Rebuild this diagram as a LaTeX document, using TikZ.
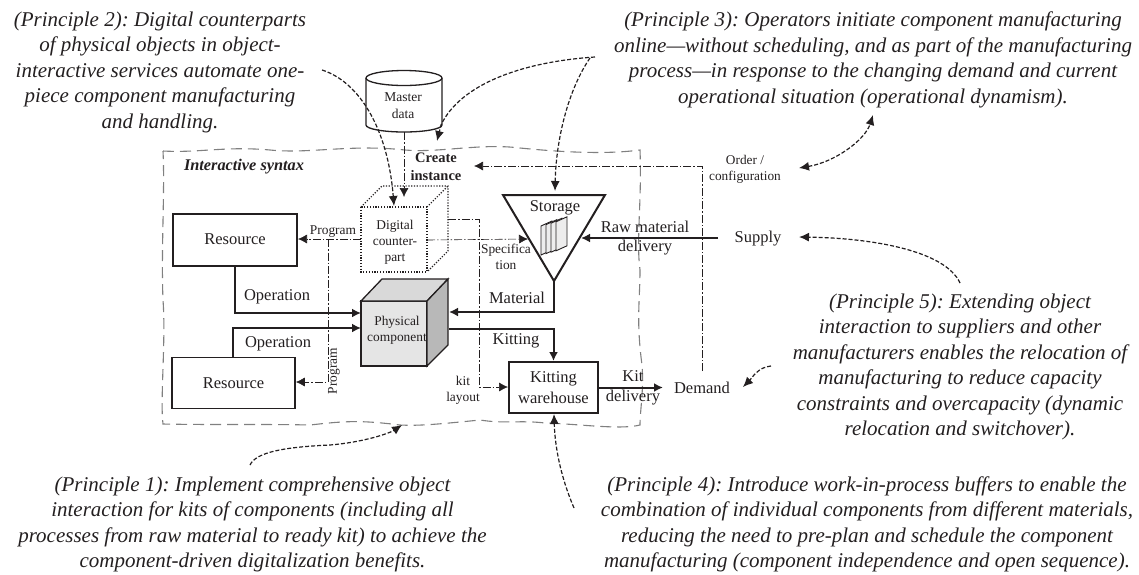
\documentclass[tikz,border=0pt]{standalone}
\usepackage{fontspec}
\setmainfont{Liberation Serif}
\usetikzlibrary{arrows.meta,decorations.pathmorphing}
\definecolor{ink}{HTML}{231F20}
\tikzset{
 plainbox/.style={draw=ink,line width=2pt,fill=white,inner sep=0pt,minimum width=0pt},
 tx/.style={text=ink,inner sep=0pt,align=center,font=\fontsize{#1}{1.2\dimexpr #1pt\relax}\selectfont},
 tx/.default=16.5,
 ptext/.style={text=ink,inner sep=0pt,align=center,font=\fontsize{#1}{25.5}\selectfont\itshape\frenchspacing},
 ptext/.default=21,
 flow/.style={draw=ink,line width=2pt,-{Latex[length=9pt,width=9pt]}},
 info/.style={draw=ink,line width=.6pt,dash pattern=on 8pt off 2pt on 1.5pt off 2pt,-{Latex[length=9pt,width=9pt]}},
 note/.style={draw=ink,line width=1.2pt,dash pattern=on 4pt off 2pt,-{Latex[length=10pt,width=9pt]}},
 boundary/.style={draw=black!50,line width=1.1pt,dash pattern=on 11pt off 6pt},
 dotted box/.style={draw=ink,line width=1.1pt,dash pattern=on 1.2pt off 1.6pt},
}
\begin{document}
\begin{tikzpicture}[x=1pt,y=-1pt]
\useasboundingbox (0,0) rectangle (1139,574);
% boundary
\draw[boundary] (163,151) .. controls (200,153) and (225,146) .. (270,150) .. controls (310,154) and (350,144) .. (405,150) .. controls (440,153) and (480,143) .. (520,148) .. controls (570,153) and (610,154) .. (640,150)
 .. controls (642,200) and (636,240) .. (640,270) .. controls (640,300) and (636,320) .. (642,365) .. controls (644,390) and (640,410) .. (640,425)
 .. controls (620,430) and (580,424) .. (545,423) .. controls (520,420) and (505,424) .. (480,420) .. controls (440,424) and (420,426) .. (400,425) .. controls (360,420) and (345,421) .. (310,425) .. controls (270,424) and (210,425) .. (163,424)
 .. controls (160,400) and (166,340) .. (163,300) .. controls (161,250) and (165,190) .. (163,151) -- cycle;
% nodes
\node[plainbox,minimum width=124pt,minimum height=52pt] (res1) at (235,239.5) {};
\node[tx] at (res1) {Resource};
\node[plainbox,line width=1.6pt,minimum width=123pt,minimum height=51pt] (res2) at (233.5,383) {};
\node[tx] at (res2) {Resource};
% master data
\draw[draw=ink,line width=1.3pt,fill=white] (366,78) -- (366,125) arc[start angle=180,end angle=360,x radius=38,y radius=-7] -- (442,78);
\draw[draw=ink,line width=1.3pt,fill=white] (404,78) ellipse[x radius=38,y radius=7.5];
\coordinate (mdbottom) at (404,132);
\node[tx=13.5] (md) at (403,106) {Master\\[1pt]data};
% digital cube
\draw[dotted box,fill=white] (361,207) rectangle (427,272);
\draw[dotted box] (361,207) -- (382,186) -- (448,186) -- (448,251) -- (427,272);
\draw[dotted box] (427,207) -- (448,186);
\coordinate (dtop) at (404,197);
\coordinate (dleft) at (361,239);
\coordinate (dfront) at (427,240);
\coordinate (dright) at (448,219);
\node[tx=13.4] (dc) at (395,242) {Digital\\counter-\\part};
% physical cube
\draw[draw=ink,line width=1.3pt,fill=black!10] (361,301) rectangle (427,366);
\draw[draw=ink,line width=1.3pt,fill=black!15] (361,301) -- (382,279) -- (448,279) -- (427,301) -- cycle;
\draw[draw=ink,line width=1.3pt,fill=black!28] (427,301) -- (448,279) -- (448,345) -- (427,366) -- cycle;
\coordinate (pa) at (361,313);
\coordinate (pb) at (361,328);
\coordinate (pc) at (449,312);
\coordinate (pd) at (449,329);
\node[tx=13.4] (pcomp) at (397,330) {Physical\\component};
% storage
\draw[draw=ink,line width=2pt,fill=white,line join=miter] (503,195) -- (605,195) -- (554,281) -- cycle;
\coordinate (stop) at (555,192);
\coordinate (sapex) at (554,281);
\coordinate (sleft) at (528,239);
\coordinate (sright) at (581,238);
\node[tx] (st) at (555,208) {Storage};
\foreach \d in {0,5,10,15}{
 \draw[draw=ink,line width=.9pt,fill=black!7] (541+\d,226-\d*.28) -- (552+\d,221-\d*.28) -- (552+\d,250-\d*.28) -- (541+\d,255-\d*.28) -- cycle;
}
% kitting
\node[plainbox,minimum width=89pt,minimum height=51pt] (kit) at (553.5,387.5) {};
\node[tx] at (553.5,387.5) {Kitting\\[1pt]warehouse};
% outer labels
\node[tx] (sup) at (758,239) {Supply};
\node[tx] (dem) at (702,388) {Demand};
\node[tx=13.3] (ord) at (745,169) {Order /\\configuration};
\coordinate (ordtarget) at (474,166);
% thick flows
\coordinate (c1) at (235,313);
\coordinate (c2) at (233,328);
\draw[flow] (res1.south -| c1) -- (c1) -- (pa);
\draw[flow] (res2.north -| c2) -- (c2) -- (pb);
\draw[flow] (sapex) |- (pc);
\draw[flow] (pd) -| (kit.north);
\draw[flow] (718,238) -- (sright);
\draw[flow] (kit.east) -- (663,387.5);
% thin info
\coordinate (o1) at (702,166);
\draw[info] (702,371) -- (o1) -- (ordtarget);
\draw[info] (mdbottom) -- (dtop);
\coordinate (b1) at (328,239);
\draw[info] (dleft) -- (298,239);
\draw[info] (b1) -- (328,382) -- (res2.east |- 0,382);
\draw[info] (dfront) -- (sleft);
\coordinate (k1) at (479,219);
\draw[info] (dright) -- (k1) -- (479,387) -- (kit.west |- 0,387);
% flow labels
\node[tx] at (277,297) {Operation};
\node[tx] at (278,344) {Operation};
\node[tx] at (517,298) {Material};
\node[tx] at (516,341) {Kitting};
\node[tx] at (645,238) {Raw material\\delivery};
\node[tx] at (633,388) {Kit\\delivery};
\node[tx=13.4] at (333,232) {Program};
\node[tx=13.4,rotate=90] at (334,371) {Program};
\node[tx=13.4] at (506,257) {Specifica\\tion};
\node[tx=13.4] at (463,390) {kit\\layout};
\node[tx,font=\fontsize{14.5}{18}\selectfont\bfseries] at (436,167) {Create\\instance};
\node[tx,font=\fontsize{16.3}{16}\selectfont\bfseries\itshape] at (244,167) {Interactive syntax};
% principle texts
\node[ptext] (p2) at (160,72) {(Principle 2): Digital counterparts\\of physical objects in object-\\interactive services automate one-\\piece component manufacturing\\and handling.};
\node[ptext] (p3) at (873,60) {(Principle 3): Operators initiate component manufacturing\\online—without scheduling, and as part of the manufacturing\\process—in response to the changing demand and current\\operational situation (operational dynamism).};
\node[ptext] (p5) at (960,367) {(Principle 5): Extending object\\interaction to suppliers and other\\manufacturers enables the relocation of\\manufacturing to reduce capacity\\constraints and overcapacity (dynamic\\relocation and switchover).};
\node[ptext] (p1) at (252.5,524.5) {(Principle 1): Implement comprehensive object\\interaction for kits of components (including all\\processes from raw material to ready kit) to achieve the\\component-driven digitalization benefits.};
\node[ptext] (p4) at (867,524.5) {(Principle 4): Introduce work-in-process buffers to enable the\\combination of individual components from different materials,\\reducing the need to pre-plan and schedule the component\\manufacturing (component independence and open sequence).};
% annotations
\coordinate (n2) at (322,70);
\draw[note] (n2) .. controls (360,82) and (388,130) .. (394,206);
\coordinate (n3) at (595,57);
\draw[note] (n3) .. controls (520,62) and (460,85) .. (441,125) -- (437,141);
\draw[note] (590,58) .. controls (568,90) and (556,140) .. (555,191);
\draw[note,{Latex[length=10pt,width=9pt]}-{Latex[length=10pt,width=9pt]}] (799,168) .. controls (835,162) and (865,140) .. (873,115);
\draw[note] (960,283) .. controls (945,250) and (870,238) .. (799,237);
\draw[note] (771,366) .. controls (758,367) and (752,378) .. (743,387);
\draw[note] (250,465) .. controls (256,452) and (285,447) .. (330,445) .. controls (365,442) and (390,433) .. (402,425);
\draw[note] (574,508) .. controls (562,480) and (555,450) .. (554,414);
\end{tikzpicture}
\end{document}
